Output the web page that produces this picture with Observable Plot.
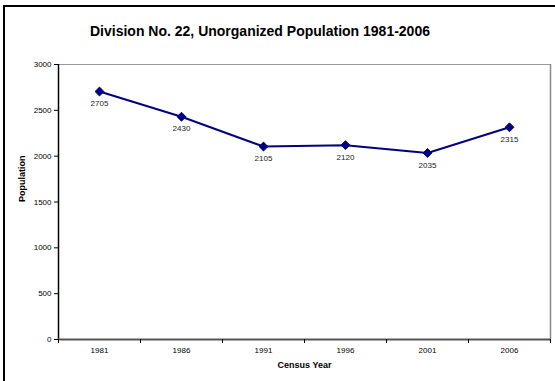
<!DOCTYPE html>
<html>
<head>
<meta charset="utf-8">
<script src="https://cdn.jsdelivr.net/npm/d3@7"></script>
<script src="https://cdn.jsdelivr.net/npm/@observablehq/plot@0.6"></script>
<style>
  html, body { margin: 0; padding: 0; background: #fff; }
  #wrap { position: relative; width: 555px; height: 381px; overflow: hidden; font-family: "Liberation Sans", Arial, sans-serif; }
  #frame { position: absolute; left: 3px; top: 5px; width: 600px; height: 400px; border-left: 2px solid #000; border-top: 2px solid #000; }
  #title { position: absolute; left: 0; top: 23px; width: 520px; text-align: center; font-weight: bold; font-size: 14px; color: #000; }
  #chart { position: absolute; left: 0; top: 0; }
</style>
</head>
<body>
<div id="wrap">
  <div id="frame"></div>
  <div id="chart"></div>
  <div id="title">Division No. 22, Unorganized Population 1981-2006</div>
</div>
<script>
const years = [1981, 1986, 1991, 1996, 2001, 2006];
const population = [2705, 2430, 2105, 2120, 2035, 2315];
const yTicks = [0, 500, 1000, 1500, 2000, 2500, 3000];
const xTitle = "Census Year";
const yTitle = "Population";

const data = years.map((y, i) => ({year: y, value: population[i]}));
const bounds = years.map(y => y - 2.5).concat([years[years.length - 1] + 2.5]);

const chart = Plot.plot({
  width: 555,
  height: 381,
  marginLeft: 58,
  marginRight: 5,
  marginTop: 64,
  marginBottom: 42,
  style: {fontFamily: "'Liberation Sans', Arial, sans-serif", fontSize: "8px", color: "#000", background: "transparent"},
  x: {type: "linear", domain: [bounds[0], bounds[bounds.length - 1]]},
  y: {domain: [0, 3000]},
  marks: [
    Plot.ruleY([3000], {stroke: "#999", strokeWidth: 1}),
    Plot.ruleX([bounds[bounds.length - 1]], {stroke: "#888", strokeWidth: 1.5}),
    Plot.ruleX([bounds[0]], {stroke: "#000", strokeWidth: 1.5}),
    Plot.ruleY([0], {stroke: "#555", strokeWidth: 2}),
    Plot.axisY({ticks: yTicks, tickSize: 4, tickPadding: 3, label: null, tickFormat: d => String(d), stroke: "#000", strokeWidth: 1}),
    Plot.axisX({ticks: bounds, tickSize: 4, tickFormat: () => "", label: null, stroke: "#000", strokeWidth: 1}),
    Plot.axisX({ticks: years, tickSize: 0, tickPadding: 8, tickFormat: d => String(d), label: null}),
    Plot.text([yTitle], {frameAnchor: "left", rotate: -90, dx: -36, fontWeight: "bold", fontSize: 9}),
    Plot.text([xTitle], {frameAnchor: "bottom", dy: 28, fontWeight: "bold", fontSize: 9}),
    Plot.line(data, {x: "year", y: "value", stroke: "#000080", strokeWidth: 2}),
    Plot.dot(data, {x: "year", y: "value", symbol: "diamond2", r: 4, fill: "#000080", stroke: "#000080", strokeWidth: 1}),
    Plot.text(data, {x: "year", y: "value", text: d => String(d.value), dy: 12, fontSize: 8, fill: "#222"})
  ]
});
document.getElementById("chart").appendChild(chart);
</script>
</body>
</html>
